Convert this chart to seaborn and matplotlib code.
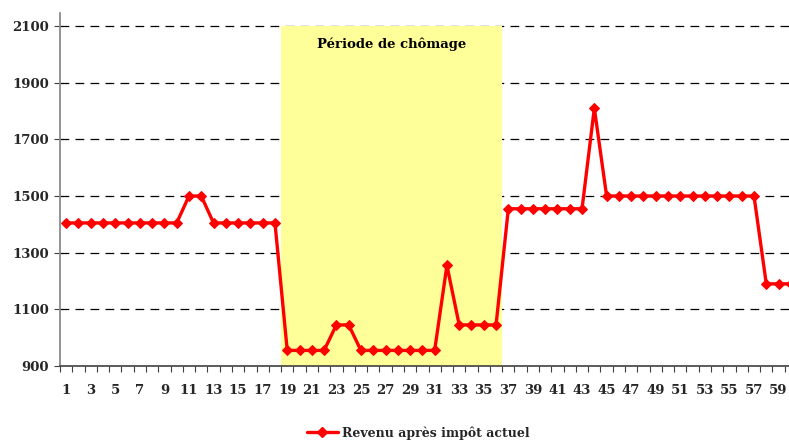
import matplotlib
matplotlib.use("Agg")
import matplotlib.pyplot as plt
import seaborn as sns
import numpy as np
import pandas as pd
from matplotlib.lines import Line2D

months = list(range(1, 61))
revenu = ([1405] * 10 + [1500] * 2 + [1405] * 6 + [955] * 4 + [1045] * 2 +
          [955] * 7 + [1255] + [1045] * 4 + [1455] * 7 + [1810] +
          [1500] * 13 + [1190] * 3)
yticks = [900, 1100, 1300, 1500, 1700, 1900, 2100]
xticklabels = [str(m) for m in range(1, 60, 2)]
series_label = "Revenu après impôt actuel"
shade_label = "Période de chômage"
shade_start, shade_end = 18.5, 36.45

df = pd.DataFrame({"mois": months, "revenu": revenu})

sns.set_theme(style="white")
plt.rcParams["font.family"] = ["DejaVu Serif"]
plt.rcParams["font.weight"] = "bold"

fig = plt.figure(figsize=(7.89, 4.41), dpi=100)
ax = fig.add_axes([60 / 789, 1 - 366 / 441, 737 / 789, (366 - 13) / 441])

ax.axvspan(shade_start, shade_end, ymin=0, ymax=(2100 - 900) / (2146 - 900),
           color="#FFFF99", zorder=1, lw=0)
for y in yticks[1:]:
    ax.axhline(y, color="black", lw=0.9, dashes=(7, 5), zorder=0.5)

sns.lineplot(data=df, x="mois", y="revenu", ax=ax, color="#FF0000", lw=2.4,
             marker="D", markersize=5.2, markeredgecolor="#FF0000", zorder=3)

ax.text((shade_start + shade_end) / 2, 2035, shade_label, ha="center", va="center",
        fontsize=9.5, fontweight="bold", color="black", zorder=4)

ax.set_xlim(0.5, 60.5)
ax.set_ylim(900, 2146)
ax.set_yticks(yticks)
ax.set_yticklabels([str(v) for v in yticks], fontsize=9.5, fontweight="bold")
ax.set_xticks(list(range(1, 60, 2)))
ax.set_xticklabels(xticklabels, fontsize=9.5, fontweight="bold")
ax.set_xticks(np.arange(0.5, 61, 1), minor=True)
ax.tick_params(axis="x", which="major", length=0, pad=13)
ax.tick_params(axis="x", which="minor", length=4, width=0.8, color="#404040", bottom=True)
ax.tick_params(axis="y", which="major", length=4, width=0.8, color="#404040", left=True, pad=4)
ax.set_xlabel("")
ax.set_ylabel("")
for s in ["top", "right"]:
    ax.spines[s].set_visible(False)
ax.spines["left"].set_color("#808080")
ax.spines["bottom"].set_color("#404040")
ax.spines["left"].set_linewidth(1.2)
ax.spines["bottom"].set_linewidth(1.2)
ax.grid(False)
if ax.get_legend() is not None:
    ax.get_legend().remove()

handle = Line2D([], [], color="#FF0000", lw=2.4, marker="D", markersize=5)
fig.legend([handle], [series_label], loc="center", bbox_to_anchor=(418 / 789, 1 - 433 / 441),
           frameon=False, prop={"size": 9, "weight": "bold"}, handlelength=2.5,
           handletextpad=0.3)

fig.savefig("out.png", dpi=100)
